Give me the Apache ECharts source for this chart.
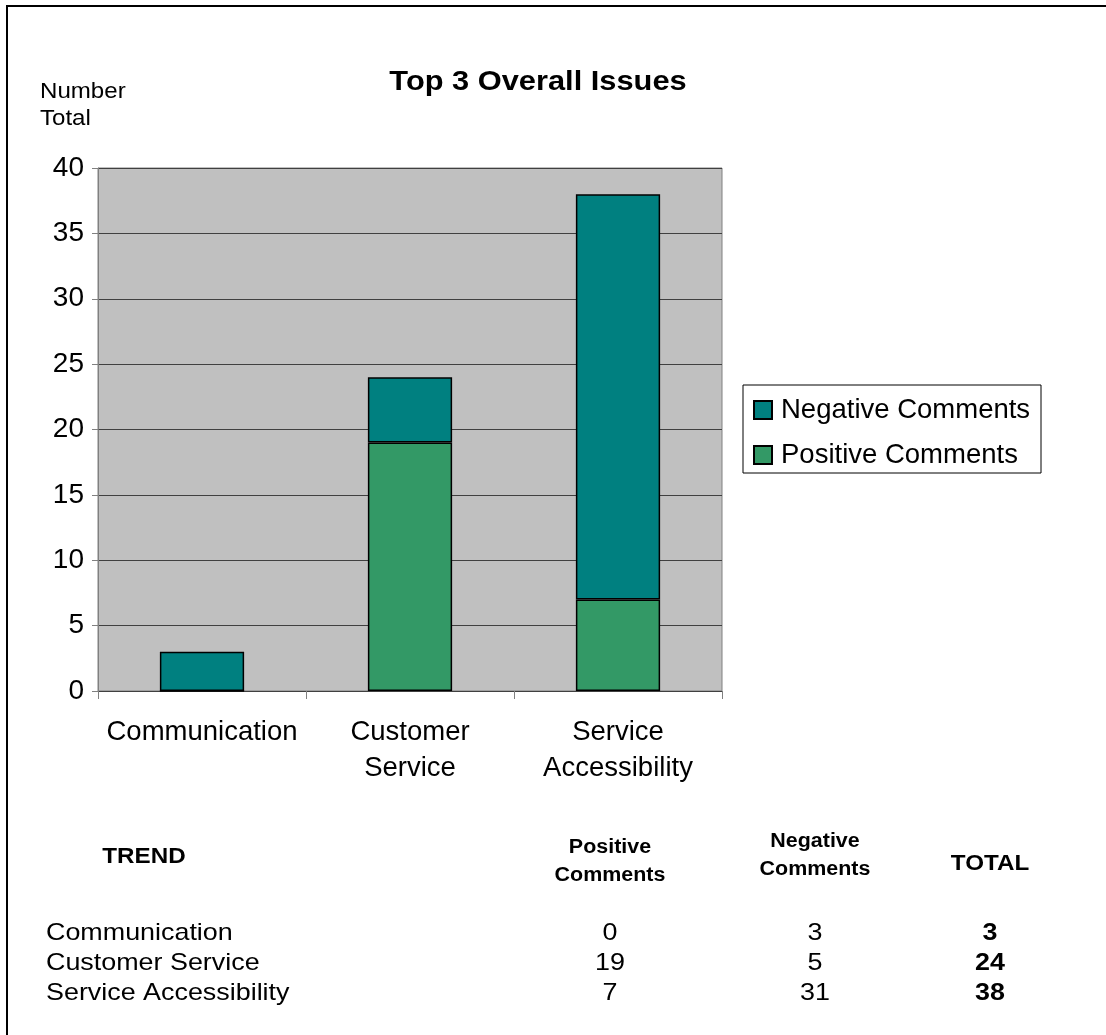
<!DOCTYPE html>
<html><head><meta charset="utf-8">
<script src="https://cdn.jsdelivr.net/npm/echarts@6/dist/echarts.min.js"></script>
<style>html,body{margin:0;padding:0;background:#fff}#c{width:1106px;height:1035px}</style>
</head><body><div id="c"></div>
<script>
const categories = ['Communication', 'Customer Service', 'Service Accessibility'];
const axisLabels = ['Communication', 'Customer\nService', 'Service\nAccessibility'];
const positive = [0, 19, 7];
const negative = [3, 5, 31];
const yTicks = [0, 5, 10, 15, 20, 25, 30, 35, 40];

const FONT = '"Liberation Sans", Arial, sans-serif';
const chart = echarts.init(document.getElementById('c'));
const SX = 1.1;

const tableRows = [];
const rowY = [933, 963, 993];
categories.forEach((c, i) => {
  tableRows.push({type:'text', x:46, y:rowY[i], scaleX:1.12, style:{text:c, font:'24px ' + FONT, fill:'#000', verticalAlign:'middle'}});
  tableRows.push({type:'text', x:610, y:rowY[i], scaleX:1.12, style:{text:String(positive[i]), font:'24px ' + FONT, fill:'#000', align:'center', verticalAlign:'middle'}});
  tableRows.push({type:'text', x:815, y:rowY[i], scaleX:1.12, style:{text:String(negative[i]), font:'24px ' + FONT, fill:'#000', align:'center', verticalAlign:'middle'}});
  tableRows.push({type:'text', x:990, y:rowY[i], scaleX:1.12, style:{text:String(positive[i] + negative[i]), font:'bold 24px ' + FONT, fill:'#000', align:'center', verticalAlign:'middle'}});
});

chart.setOption({
  animation: false,
  textStyle: {fontFamily: FONT},
  legend: {
    orient: 'vertical', left: 748, top: 391, itemGap: 17,
    icon: 'rect', itemWidth: 18, itemHeight: 18,
    data: ['Negative Comments', 'Positive Comments'],
    textStyle: {fontSize: 27.5, color: '#000', fontFamily: FONT, padding: [0,0,0,4]}
  },
  grid: {
    left: 98, right: 1106 - 722, top: 168, bottom: 1035 - 691,
    show: true, backgroundColor: '#C0C0C0', borderColor: '#808080', borderWidth: 1
  },
  xAxis: {
    type: 'category', data: axisLabels,
    axisLine: {lineStyle: {color: '#404040', width: 1}},
    axisTick: {show: true, alignWithLabel: false, length: 8, lineStyle: {color: '#808080'}},
    axisLabel: {interval: 0, fontSize: 27.5, color: '#000', margin: 23, lineHeight: 36, fontFamily: FONT}
  },
  yAxis: {
    type: 'value', min: 0, max: 40, interval: 5,
    axisLine: {show: true, lineStyle: {color: '#808080'}},
    axisTick: {show: true, length: 6, lineStyle: {color: '#808080'}},
    axisLabel: {fontSize: 28, color: '#000', margin: 14, fontFamily: FONT},
    splitLine: {lineStyle: {color: '#404040', width: 1}}
  },
  series: [
    {name: 'Positive Comments', type: 'bar', stack: 't', data: positive, barWidth: '40.5%',
     itemStyle: {color: '#339966', borderColor: '#000', borderWidth: 1.5}},
    {name: 'Negative Comments', type: 'bar', stack: 't', data: negative, barWidth: '40.5%',
     itemStyle: {color: '#008080', borderColor: '#000', borderWidth: 1.5}}
  ],
  graphic: [
    {type:'rect', shape:{x:7, y:6, width:1120, height:1060}, style:{fill:'none', stroke:'#000', lineWidth:2}, silent:true},
    {type:'rect', shape:{x:743, y:385, width:298, height:88}, style:{fill:'#fff', stroke:'#000', lineWidth:1}, z:-1},
    {type:'text', x:538, y:82, scaleX:SX, style:{text:'Top 3 Overall Issues', font:'bold 28px ' + FONT, fill:'#000', align:'center', verticalAlign:'middle'}},
    {type:'text', x:40, y:106, scaleX:1.12, style:{text:'Number\nTotal', font:'21.5px ' + FONT, lineHeight:27, fill:'#000', verticalAlign:'middle'}},
    {type:'text', x:144, y:857, scaleX:SX, style:{text:'TREND', font:'bold 22px ' + FONT, fill:'#000', align:'center', verticalAlign:'middle'}},
    {type:'text', x:610, y:862, scaleX:SX, style:{text:'Positive\nComments', font:'bold 19.5px ' + FONT, lineHeight:28, fill:'#000', align:'center', verticalAlign:'middle'}},
    {type:'text', x:815, y:856, scaleX:SX, style:{text:'Negative\nComments', font:'bold 19.5px ' + FONT, lineHeight:28, fill:'#000', align:'center', verticalAlign:'middle'}},
    {type:'text', x:990, y:864, scaleX:SX, style:{text:'TOTAL', font:'bold 22px ' + FONT, fill:'#000', align:'center', verticalAlign:'middle'}}
  ].concat(tableRows)
});
</script></body></html>
